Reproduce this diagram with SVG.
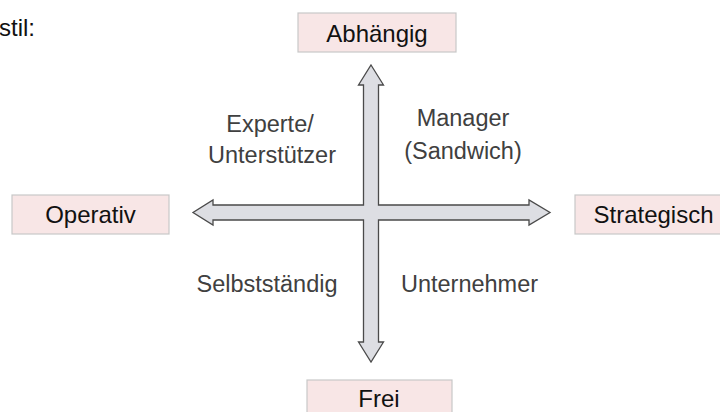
<svg xmlns="http://www.w3.org/2000/svg" width="720" height="412" viewBox="0 0 720 412">
  <style>
    .box { fill: #f8e6e6; stroke: #c8c8c8; stroke-width: 1.2; }
    .lbl { font-family: "Liberation Sans", Arial, sans-serif; font-size: 24px; fill: #111; text-anchor: middle; }
    .quad { font-family: "Liberation Sans", Arial, sans-serif; font-size: 23.5px; fill: #404040; text-anchor: middle; }
    .axis { fill: #dddee3; stroke: #4a4a4a; stroke-width: 1.3; stroke-linejoin: miter; }
  </style>
  <rect width="720" height="412" fill="#ffffff"/>

  <!-- heading fragment -->
  <text class="lbl" x="-1" y="36" style="text-anchor:start">stil:</text>

  <!-- axis cross: two double-headed arrows drawn as one outline -->
  <g id="connectors">
    <polygon class="axis" points="371,65 383.5,85 378.5,85 378.5,205 529,205 529,200 550,212.5 529,225 529,220 378.5,220 378.5,342 383.5,342 371,362 358.5,342 363.5,342 363.5,220 213,220 213,225 193,212.5 213,200 213,205 363.5,205 363.5,85 358.5,85"/>
  </g>

  <g id="abhaengig">
    <rect class="box" x="298" y="13" width="158" height="39"/>
    <text class="lbl" x="377" y="42">Abhängig</text>
  </g>
  <g id="operativ">
    <rect class="box" x="12" y="195" width="157" height="39"/>
    <text class="lbl" x="90.5" y="223">Operativ</text>
  </g>
  <g id="strategisch">
    <rect class="box" x="575" y="195" width="157" height="39"/>
    <text class="lbl" x="653.5" y="223">Strategisch</text>
  </g>
  <g id="frei">
    <rect class="box" x="307" y="380" width="145" height="39"/>
    <text class="lbl" x="379" y="407">Frei</text>
  </g>

  <g id="experte">
    <text class="quad" x="270" y="132">Experte/</text>
    <text class="quad" x="272" y="163">Unterstützer</text>
  </g>
  <g id="manager">
    <text class="quad" x="463" y="126">Manager</text>
    <text class="quad" x="463" y="159">(Sandwich)</text>
  </g>
  <g id="selbststaendig">
    <text class="quad" x="267" y="292">Selbstständig</text>
  </g>
  <g id="unternehmer">
    <text class="quad" x="469.5" y="292">Unternehmer</text>
  </g>
</svg>
